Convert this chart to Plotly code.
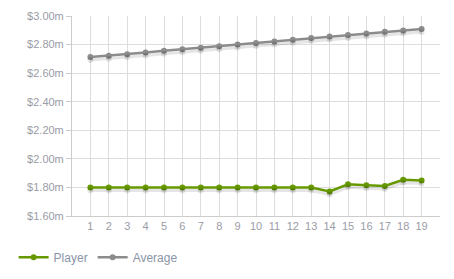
import plotly.graph_objects as go

categories = list(range(1, 20))
player = [1.80, 1.80, 1.80, 1.80, 1.80, 1.80, 1.80, 1.80, 1.80, 1.80, 1.80, 1.80, 1.80,
          1.772, 1.822, 1.816, 1.810, 1.854, 1.849]
average = [2.713, 2.722, 2.733, 2.745, 2.756, 2.767, 2.778, 2.789, 2.800, 2.811, 2.822,
           2.834, 2.846, 2.857, 2.867, 2.878, 2.889, 2.899, 2.909]
y_ticks = [1.6, 1.8, 2.0, 2.2, 2.4, 2.6, 2.8, 3.0]
y_labels = ["$%.2fm" % v for v in y_ticks]

W, H = 454, 279
ml, mr, mt, mb = 72, 14, 16, 63

fig = go.Figure()
# shadows
for vals in (player, average):
    fig.add_trace(go.Scatter(x=categories, y=vals, mode="lines+markers", xaxis="x2", yaxis="y2",
                             line=dict(color="rgba(0,0,0,0.10)", width=3),
                             marker=dict(size=6, color="rgba(0,0,0,0.10)"),
                             showlegend=False, hoverinfo="skip"))
fig.add_trace(go.Scatter(x=categories, y=player, name="Player", mode="lines+markers",
                         line=dict(color="#669900", width=2.5),
                         marker=dict(size=6, color="#669900")))
fig.add_trace(go.Scatter(x=categories, y=average, name="Average", mode="lines+markers",
                         line=dict(color="#8c8c8c", width=2.5),
                         marker=dict(size=6, color="#8c8c8c")))

tickvals = list(range(0, 21))
ticktext = [""] + [str(c) for c in categories] + [""]

fig.update_layout(
    width=W, height=H,
    margin=dict(l=ml, r=mr, t=mt, b=mb, autoexpand=False),
    paper_bgcolor="white", plot_bgcolor="white",
    font=dict(family="Liberation Sans, Arial, sans-serif", size=11, color="#9a9ba6"),
    xaxis=dict(range=[0, 20], tickvals=tickvals, ticktext=ticktext, showgrid=True,
               gridcolor="#dddddd", gridwidth=1, zeroline=False, showline=True,
               linecolor="#cccccc", linewidth=1, ticks="", fixedrange=True),
    yaxis=dict(range=[1.6, 3.0], tickvals=y_ticks, ticktext=y_labels, showgrid=True,
               gridcolor="#dddddd", gridwidth=1, zeroline=False, showline=True,
               linecolor="#cccccc", linewidth=1, ticks="outside", ticklen=5,
               tickcolor="#cccccc", fixedrange=True),
    xaxis2=dict(range=[0, 20], overlaying="x", visible=False, domain=[0.004, 1]),
    yaxis2=dict(range=[1.6 + 0.021, 3.0 + 0.021], overlaying="y", visible=False, domain=[0, 1]),
    legend=dict(orientation="h", xref="container", yref="container", x=0.03, y=0.078,
                xanchor="left", yanchor="middle",
                font=dict(size=12, color="#8a95a8"), itemwidth=30),
    showlegend=True,
)
fig.write_html("out.html")
